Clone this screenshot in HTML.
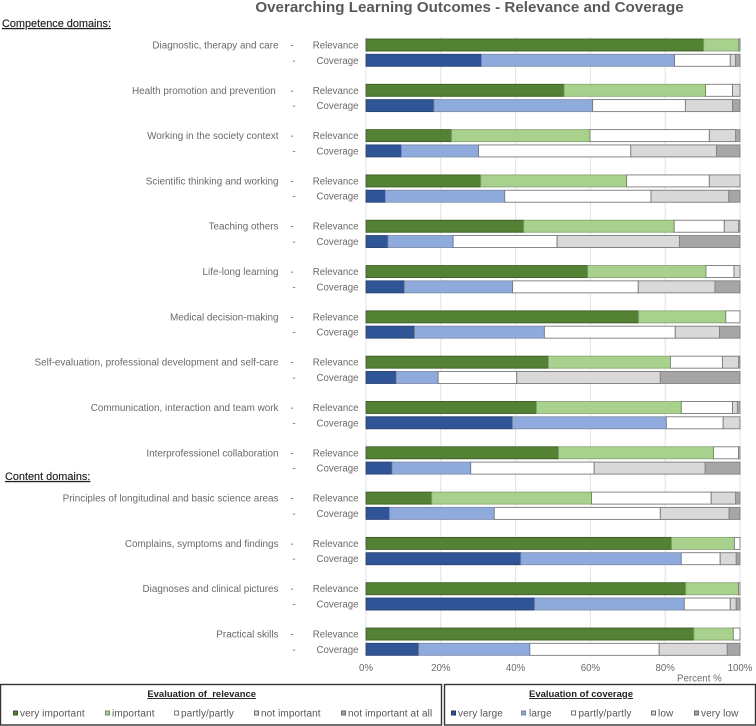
<!DOCTYPE html>
<html lang="en">
<head>
<meta charset="utf-8">
<title>Overarching Learning Outcomes - Relevance and Coverage</title>
<style>
html,body{margin:0;padding:0;background:#fff;width:756px;height:726px;overflow:hidden}
svg{display:block;font-family:"Liberation Sans",sans-serif}
text{fill:#6a6a6a;font-size:9.7px}
.hd{fill:#222;font-size:10.9px;text-decoration:underline;stroke:#222;stroke-width:.15px}
.lt{fill:#222;font-size:9.5px;font-weight:bold;text-decoration:underline;text-anchor:middle}
.le{fill:#555;font-size:10px;letter-spacing:.1px}
.cat{font-size:9.92px}
</style>
</head>
<body>
<svg id="chart" width="756" height="726" viewBox="0 0 756 726" xmlns="http://www.w3.org/2000/svg">
  <text x="469.5" y="12" text-anchor="middle" style="font-size:15.15px;font-weight:bold;fill:#595959">Overarching Learning Outcomes - Relevance and Coverage</text>
  <text class="hd" x="2" y="27">Competence domains:</text>
  <text class="hd" x="5" y="480">Content domains:</text>
  <g id="grid"></g>
  <g id="bars"></g>
  <g id="labels"></g>
  <g id="ticks"></g>
  <text x="677" y="681.5">Percent %</text>

  <g>
    <rect x="0.5" y="684.5" width="441" height="40.5" fill="#fff" stroke="#333" stroke-width="1.4"/>
    <text class="lt" x="201.7" y="697">Evaluation of&#160;&#160;relevance</text>
    <rect x="13.5" y="711" width="4" height="4" fill="#548235" stroke="#38571f"/>
    <text class="le" x="20" y="716.5">very important</text>
    <rect x="105.5" y="711" width="4" height="4" fill="#a9d18e" stroke="#6f8f5a"/>
    <text class="le" x="112" y="716.5">important</text>
    <rect x="174.5" y="711" width="4" height="4" fill="#fff" stroke="#777"/>
    <text class="le" x="181" y="716.5">partly/partly</text>
    <rect x="254.5" y="711" width="4" height="4" fill="#d9d9d9" stroke="#666"/>
    <text class="le" x="261" y="716.5">not important</text>
    <rect x="341.5" y="711" width="4" height="4" fill="#a6a6a6" stroke="#666"/>
    <text class="le" x="348" y="716.5">not important at all</text>
  </g>
  <g>
    <rect x="444.5" y="684.5" width="311" height="40.5" fill="#fff" stroke="#333" stroke-width="1.4"/>
    <text class="lt" x="581" y="697">Evaluation of coverage</text>
    <rect x="451.5" y="711" width="4" height="4" fill="#2f5597" stroke="#1f3864"/>
    <text class="le" x="458" y="716.5">very large</text>
    <rect x="521.5" y="711" width="4" height="4" fill="#8faadc" stroke="#6d84ad"/>
    <text class="le" x="529" y="716.5">large</text>
    <rect x="571.5" y="711" width="4" height="4" fill="#fff" stroke="#777"/>
    <text class="le" x="578.5" y="716.5">partly/partly</text>
    <rect x="651.5" y="711" width="4" height="4" fill="#d9d9d9" stroke="#666"/>
    <text class="le" x="658" y="716.5">low</text>
    <rect x="694.5" y="711" width="4" height="4" fill="#a6a6a6" stroke="#666"/>
    <text class="le" x="701" y="716.5">very low</text>
  </g>
</svg>
<script>
const categories = [
  "Diagnostic, therapy and care",
  "Health promotion and prevention\u00a0",
  "Working in the society context",
  "Scientific thinking and working",
  "Teaching others",
  "Life-long learning",
  "Medical decision-making",
  "Self-evaluation, professional development and self-care",
  "Communication, interaction and team work",
  "Interprofessionel collaboration",
  "Principles of longitudinal and basic science areas",
  "Complains, symptoms and findings",
  "Diagnoses and clinical pictures",
  "Practical skills"
];
const relevanceValues = [
  [90.3, 9.4, 0.3, 0, 0],
  [53.0, 37.8, 7.2, 2.0, 0],
  [22.9, 37.0, 31.9, 7.0, 1.2],
  [30.7, 39.0, 22.1, 8.2, 0],
  [42.2, 40.2, 13.4, 3.8, 0.4],
  [59.3, 31.6, 7.5, 1.6, 0],
  [72.9, 23.3, 3.8, 0, 0],
  [48.8, 32.6, 13.9, 4.3, 0.4],
  [45.6, 38.7, 13.7, 1.3, 0.7],
  [51.5, 41.4, 6.7, 0.4, 0],
  [17.6, 42.7, 32.0, 6.5, 1.2],
  [81.7, 16.8, 1.5, 0, 0],
  [85.5, 14.1, 0.4, 0, 0],
  [87.7, 10.5, 1.8, 0, 0]
];
const coverageValues = [
  [30.9, 51.6, 14.9, 1.4, 1.2],
  [18.2, 42.4, 24.8, 12.6, 2.0],
  [9.5, 20.6, 40.7, 22.9, 6.3],
  [5.2, 31.9, 39.1, 20.8, 3.0],
  [5.9, 17.4, 27.8, 32.7, 16.2],
  [10.3, 28.9, 33.6, 20.5, 6.7],
  [13.0, 34.7, 35.0, 11.8, 5.5],
  [8.1, 11.2, 21.0, 38.4, 21.3],
  [39.2, 41.1, 15.2, 4.5, 0],
  [7.0, 21.0, 33.0, 29.7, 9.3],
  [6.3, 28.0, 44.4, 18.4, 2.9],
  [41.4, 42.9, 10.4, 4.3, 1.0],
  [45.1, 40.0, 12.3, 1.6, 1.0],
  [14.1, 29.7, 34.6, 18.2, 3.4]
];
const xTicks = [0, 20, 40, 60, 80, 100];
const relevanceSeries = ["very-important", "important", "partly", "not-important", "not-important-at-all"];
const coverageSeries = ["very-large", "large", "partly", "low", "very-low"];

const NS = "http://www.w3.org/2000/svg";
const xScale = function (p) { return 366 + p * 3.74; };
const rowTop = function (i) { return 39 + i * 45.31; };
const relevanceStyle = [["#548235", "#3b5e25"], ["#a9d18e", "#8aa877"], ["#ffffff", "#7a7a7a"], ["#d9d9d9", "#7a7a7a"], ["#a6a6a6", "#8a8a8a"]];
const coverageStyle = [["#2f5597", "#2a4472"], ["#8faadc", "#7f8fa8"], ["#ffffff", "#7a7a7a"], ["#d9d9d9", "#7a7a7a"], ["#a6a6a6", "#808080"]];

function shape(parent, tag, attrs, text) {
  const el = document.createElementNS(NS, tag);
  Object.keys(attrs).forEach(function (k) { el.setAttribute(k, attrs[k]); });
  if (text !== undefined) el.textContent = text;
  parent.appendChild(el);
  return el;
}

const grid = document.getElementById("grid");
const ticks = document.getElementById("ticks");
xTicks.forEach(function (t) {
  const line = shape(grid, "line", { x1: xScale(t), x2: xScale(t), y1: 37, y2: 657, stroke: "#e2e2e2", "stroke-width": 1 });
  
  
  const label = shape(ticks, "text", { x: xScale(t), y: 671, "text-anchor": "middle" }, t + "%");
  
  
});

function drawBar(parent, values, top, style, seriesNames, rowName) {
  let cum = 0;
  values.forEach(function (v, s) {
    if (v <= 0) return;
    const x0 = xScale(cum);
    cum += v;
    const x1 = xScale(cum);
    const seg = shape(parent, "rect", { x: x0, y: top, width: x1 - x0, height: 12, fill: style[s][0], stroke: style[s][1], "stroke-width": 0.9 });
    
    
  });
}

const bars = document.getElementById("bars");
const labels = document.getElementById("labels");
categories.forEach(function (name, i) {
  const top = rowTop(i);
  drawBar(bars, relevanceValues[i], top, relevanceStyle, relevanceSeries, 'row' + (i + 1) + '-relevance');
  drawBar(bars, coverageValues[i], top + 15.3, coverageStyle, coverageSeries, 'row' + (i + 1) + '-coverage');

  const cat = shape(labels, "text", { x: 278.5, y: top + 9.5, "text-anchor": "end", "class": "cat" }, name);
  
  
  const d1 = shape(labels, "text", { x: 292, y: top + 9.5, "text-anchor": "middle" }, "-");
  
  
  const r = shape(labels, "text", { x: 358.5, y: top + 9.5, "text-anchor": "end" }, "Relevance");
  
  
  const d2 = shape(labels, "text", { x: 294, y: top + 24.8, "text-anchor": "middle" }, "-");
  
  
  const c = shape(labels, "text", { x: 358.5, y: top + 24.8, "text-anchor": "end" }, "Coverage");
  
  
});
</script>
</body>
</html>
